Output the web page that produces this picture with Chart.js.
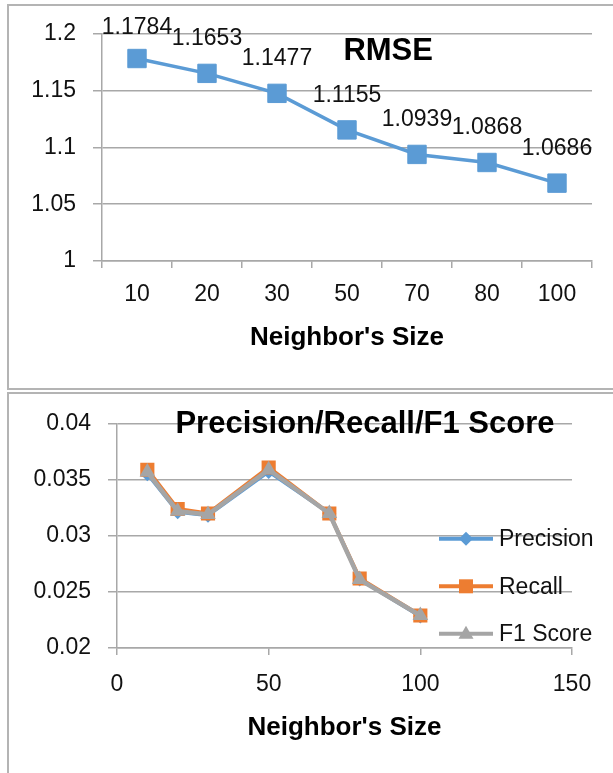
<!DOCTYPE html>
<html lang="en">
<head>
    <meta charset="UTF-8">
    <title>RMSE and Precision/Recall/F1 Score</title>
    <style>
        body {
            margin: 0;
            background-color: white;
            overflow: hidden;
            width: 613px;
            height: 773px;
            position: relative;
        }
        .frame {
            position: absolute;
            box-sizing: border-box;
            border: 2px solid #b4b4b4;
            left: 7px;
            width: 700px;
        }
        canvas { position: absolute; left: 0; }
    </style>
</head>
<body>

<div class="frame" style="top: 4px; height: 386px;"></div>
<div class="frame" style="top: 392px; height: 500px;"></div>
<canvas id="rmseChart" width="613" height="390" style="top: 0;"></canvas>
<canvas id="prfChart" width="613" height="380" style="top: 393px;"></canvas>

<script src="https://cdn.jsdelivr.net/npm/chart.js"></script>

<script>
    // RMSE chart data
    const neighborSizes = ['10', '20', '30', '50', '70', '80', '100'];
    const rmse = [1.1784, 1.1653, 1.1477, 1.1155, 1.0939, 1.0868, 1.0686];
    const rmseTicks = [1, 1.05, 1.1, 1.15, 1.2];

    // Precision / Recall / F1 chart data
    const neighborX = [10, 20, 30, 50, 70, 80, 100];
    const precision = [0.0355, 0.0321, 0.0318, 0.0357, 0.0320, 0.0261, 0.0228];
    const recall = [0.0359, 0.0324, 0.0320, 0.0361, 0.0320, 0.0262, 0.0229];
    const f1Score = [0.0357, 0.0322, 0.0319, 0.0359, 0.0320, 0.0261, 0.0229];
    const prfTicks = [0.02, 0.025, 0.03, 0.035, 0.04];
    const xTicks = [0, 50, 100, 150];

    const FONT = '"Liberation Sans", Arial, sans-serif';
    const GRID = '#a8a8a8';
    Chart.defaults.font.family = FONT;
    Chart.defaults.color = '#111';

    function fixedTicks(list) {
        return s => { s.ticks = list.map(v => ({ value: v })); };
    }

    // title drawn inside the plot area, like the original
    const innerTitle = {
        id: 'innerTitle',
        afterDraw(chart, args, opts) {
            const { ctx, chartArea } = chart;
            ctx.save();
            ctx.font = 'bold 31px ' + FONT;
            ctx.fillStyle = '#000';
            ctx.textAlign = 'center';
            ctx.textBaseline = 'alphabetic';
            const x = chartArea.left + chartArea.width * opts.xFrac;
            ctx.fillText(opts.text, x, chartArea.top + opts.dy);
            ctx.restore();
        }
    };

    const valueLabels = {
        id: 'valueLabels',
        afterDatasetsDraw(chart) {
            const { ctx, chartArea } = chart;
            const meta = chart.getDatasetMeta(0);
            ctx.save();
            ctx.font = '23px ' + FONT;
            ctx.fillStyle = '#111';
            ctx.textAlign = 'center';
            ctx.textBaseline = 'alphabetic';
            meta.data.forEach((pt, i) => {
                const y = Math.max(pt.y - 28, chartArea.top);
                ctx.fillText(rmse[i].toFixed(4), pt.x, y);
            });
            ctx.restore();
        }
    };

    function drawMarker(ctx, style, x, y, color) {
        ctx.fillStyle = color;
        ctx.beginPath();
        if (style === 'rectRot') {
            ctx.moveTo(x, y - 7); ctx.lineTo(x + 7, y); ctx.lineTo(x, y + 7); ctx.lineTo(x - 7, y);
        } else if (style === 'rect') {
            ctx.rect(x - 7, y - 7, 14, 14);
        } else {
            ctx.moveTo(x, y - 8); ctx.lineTo(x + 7.5, y + 5); ctx.lineTo(x - 7.5, y + 5);
        }
        ctx.closePath();
        ctx.fill();
    }

    // legend sits over the right part of the plot area
    const sideLegend = {
        id: 'sideLegend',
        afterDraw(chart) {
            const { ctx, chartArea } = chart;
            ctx.save();
            ctx.font = '23px ' + FONT;
            ctx.textBaseline = 'middle';
            ctx.textAlign = 'left';
            chart.data.datasets.forEach((ds, i) => {
                const y = chartArea.top + 115 + i * 47.5;
                const x0 = chartArea.right - 133;
                ctx.strokeStyle = ds.borderColor;
                ctx.lineWidth = 4;
                ctx.beginPath();
                ctx.moveTo(x0, y);
                ctx.lineTo(x0 + 54, y);
                ctx.stroke();
                drawMarker(ctx, ds.pointStyle, x0 + 27, y, ds.borderColor);
                ctx.fillStyle = '#111';
                ctx.fillText(ds.label, x0 + 60, y + 1);
            });
            ctx.restore();
        }
    };

    new Chart(document.getElementById('rmseChart'), {
        type: 'line',
        data: {
            labels: neighborSizes,
            datasets: [{
                label: 'RMSE',
                data: rmse,
                borderColor: '#5b9bd5',
                backgroundColor: '#5b9bd5',
                borderWidth: 3.5,
                pointStyle: 'rect',
                pointRadius: 13,
                pointBorderWidth: 1,
                pointBorderColor: '#5b9bd5',
                tension: 0
            }]
        },
        options: {
            responsive: false,
            animation: false,
            devicePixelRatio: 1,
            layout: { padding: { top: 34, right: 21, left: 0, bottom: 0 } },
            plugins: {
                legend: { display: false },
                tooltip: { enabled: false },
                innerTitle: { text: 'RMSE', xFrac: 0.584, dy: 26 }
            },
            scales: {
                x: {
                    offset: true,
                    grid: { drawOnChartArea: false, offset: true, tickLength: 7, color: GRID, lineWidth: 1.5 },
                    border: { color: GRID, width: 1.5 },
                    ticks: { font: { size: 23 }, padding: 13, color: '#111' },
                    title: {
                        display: true, text: "Neighbor's Size", color: '#000',
                        font: { size: 26, weight: 'bold' }, padding: { top: 0, bottom: 37 }
                    },
                    afterFit: s => { s.height = 129; }
                },
                y: {
                    min: 1, max: 1.2,
                    afterBuildTicks: fixedTicks(rmseTicks),
                    grid: { tickLength: 9, color: GRID, lineWidth: 1.5 },
                    border: { color: GRID, width: 1.5 },
                    ticks: { font: { size: 23 }, padding: 17, color: '#111', callback: v => String(v) },
                    afterFit: s => { s.width = 102; }
                }
            }
        },
        plugins: [valueLabels, innerTitle]
    });

    const toPoints = ys => neighborX.map((x, i) => ({ x: x, y: ys[i] }));

    new Chart(document.getElementById('prfChart'), {
        type: 'line',
        data: {
            datasets: [
                { label: 'Precision', data: toPoints(precision), borderColor: '#5b9bd5', backgroundColor: '#5b9bd5',
                  borderWidth: 3, pointStyle: 'rectRot', pointRadius: 7, pointBorderWidth: 0, order: 3 },
                { label: 'Recall', data: toPoints(recall), borderColor: '#ed7d31', backgroundColor: '#ed7d31',
                  borderWidth: 4, pointStyle: 'rect', pointRadius: 10, pointBorderWidth: 0, order: 2 },
                { label: 'F1 Score', data: toPoints(f1Score), borderColor: '#a5a5a5', backgroundColor: '#a5a5a5',
                  borderWidth: 4.5, pointStyle: 'triangle', pointRadius: 9, pointBorderWidth: 0, order: 1 }
            ]
        },
        options: {
            responsive: false,
            animation: false,
            devicePixelRatio: 1,
            layout: { padding: { top: 30, right: 41, left: 0, bottom: 0 } },
            plugins: {
                legend: { display: false },
                tooltip: { enabled: false },
                innerTitle: { text: 'Precision/Recall/F1 Score', xFrac: 0.545, dy: 9 }
            },
            scales: {
                x: {
                    type: 'linear', min: 0, max: 150,
                    afterBuildTicks: fixedTicks(xTicks),
                    grid: { drawOnChartArea: false, tickLength: 7, color: GRID, lineWidth: 1.5 },
                    border: { color: GRID, width: 1.5 },
                    ticks: { font: { size: 23 }, padding: 16, color: '#111', callback: v => String(v) },
                    title: {
                        display: true, text: "Neighbor's Size", color: '#000',
                        font: { size: 26, weight: 'bold' }, padding: { top: 0, bottom: 30 }
                    },
                    afterFit: s => { s.height = 125; }
                },
                y: {
                    min: 0.02, max: 0.04,
                    afterBuildTicks: fixedTicks(prfTicks),
                    grid: { tickLength: 9, color: GRID, lineWidth: 1.5 },
                    border: { color: GRID, width: 1.5 },
                    ticks: { font: { size: 23 }, padding: 17, color: '#111', callback: v => String(v) },
                    afterFit: s => { s.width = 117; }
                }
            }
        },
        plugins: [sideLegend, innerTitle]
    });
</script>
</body>
</html>
